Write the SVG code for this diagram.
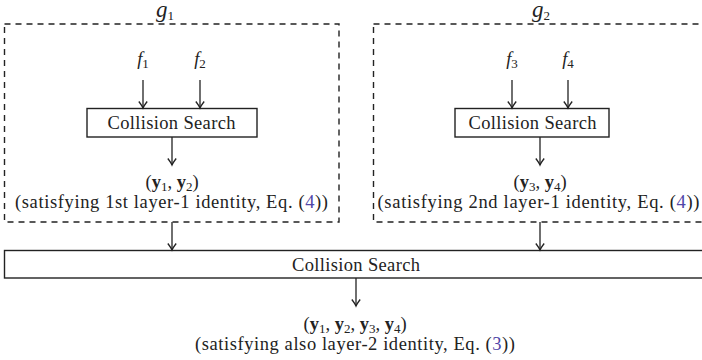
<svg xmlns="http://www.w3.org/2000/svg" width="702" height="360" viewBox="0 0 702 360">
  <style>
    text { font-family: 'Liberation Serif', 'Times New Roman', Times, serif; fill: #222; }
    .t { font-size: 18.5px; text-anchor: middle; }
    .m { font-size: 18.5px; text-anchor: middle; }
    .g { font-size: 23px; text-anchor: middle; }
    .i { font-style: italic; }
    .b { font-weight: bold; }
    .s { font-size: 13px; }
    .ref { fill: #5046a8; }
    .box { fill: #fff; stroke: #222; stroke-width: 1.4; }
    .dash { fill: none; stroke: #222; stroke-width: 1.4; stroke-dasharray: 6 5; }
    .edge { fill: none; stroke: #222; stroke-width: 1.3; marker-end: url(#to); }
  </style>
  <defs>
    <marker id="to" viewBox="-8 -6 10 12" markerWidth="10" markerHeight="12" refX="0" refY="0" orient="auto" markerUnits="userSpaceOnUse">
      <path d="M -6.5,-4.2 Q -2,-0.8 0,0 Q -2,0.8 -6.5,4.2" fill="none" stroke="#222" stroke-width="1.3"/>
    </marker>
  </defs>

  <rect width="702" height="360" fill="#fff"/>

  <!-- group g1 -->
  <g id="group-g1">
    <rect class="dash" x="4.5" y="24" width="334.5" height="198"/>
    <text class="g" x="165" y="17"><tspan class="i">g</tspan><tspan class="s" font-size="15" dy="3">1</tspan></text>
  </g>
  <g id="f1"><text class="m" x="143" y="65"><tspan class="i">f</tspan><tspan class="s" dy="3">1</tspan></text></g>
  <g id="f2"><text class="m" x="200" y="65"><tspan class="i">f</tspan><tspan class="s" dy="3">2</tspan></text></g>
  <g id="search-1">
    <rect class="box" x="87" y="108.5" width="170" height="28.5"/>
    <text class="t" x="171.5" y="128.5" textLength="128" lengthAdjust="spacing">Collision Search</text>
  </g>
  <g id="result-1">
    <text class="m" x="172" y="188"><tspan>(</tspan><tspan class="b">y</tspan><tspan class="s" dy="3">1</tspan><tspan dy="-3">, </tspan><tspan class="b">y</tspan><tspan class="s" dy="3">2</tspan><tspan dy="-3">)</tspan></text>
    <text class="t" x="171.5" y="208" textLength="313" lengthAdjust="spacing">(satisfying 1st layer-1 identity, Eq. (<tspan class="ref">4</tspan>))</text>
  </g>

  <!-- group g2 -->
  <g id="group-g2">
    <rect class="dash" x="373.5" y="24" width="340" height="198"/>
    <text class="g" x="541" y="17"><tspan class="i">g</tspan><tspan class="s" font-size="15" dy="3">2</tspan></text>
  </g>
  <g id="f3"><text class="m" x="512" y="65"><tspan class="i">f</tspan><tspan class="s" dy="3">3</tspan></text></g>
  <g id="f4"><text class="m" x="568" y="65"><tspan class="i">f</tspan><tspan class="s" dy="3">4</tspan></text></g>
  <g id="search-2">
    <rect class="box" x="455" y="108.5" width="154" height="28.5"/>
    <text class="t" x="532.5" y="128.5" textLength="128" lengthAdjust="spacing">Collision Search</text>
  </g>
  <g id="result-2">
    <text class="m" x="540" y="188"><tspan>(</tspan><tspan class="b">y</tspan><tspan class="s" dy="3">3</tspan><tspan dy="-3">, </tspan><tspan class="b">y</tspan><tspan class="s" dy="3">4</tspan><tspan dy="-3">)</tspan></text>
    <text class="t" x="538.5" y="208" textLength="322" lengthAdjust="spacing">(satisfying 2nd layer-1 identity, Eq. (<tspan class="ref">4</tspan>))</text>
  </g>

  <!-- layer-2 search -->
  <g id="search-3">
    <rect class="box" x="4.5" y="250.5" width="720" height="27.5"/>
    <text class="t" x="356" y="270.5" textLength="128" lengthAdjust="spacing">Collision Search</text>
  </g>
  <g id="result-3">
    <text class="m" x="355" y="330"><tspan>(</tspan><tspan class="b">y</tspan><tspan class="s" dy="3">1</tspan><tspan dy="-3">, </tspan><tspan class="b">y</tspan><tspan class="s" dy="3">2</tspan><tspan dy="-3">, </tspan><tspan class="b">y</tspan><tspan class="s" dy="3">3</tspan><tspan dy="-3">, </tspan><tspan class="b">y</tspan><tspan class="s" dy="3">4</tspan><tspan dy="-3">)</tspan></text>
    <text class="t" x="355" y="350" textLength="320" lengthAdjust="spacing">(satisfying also layer-2 identity, Eq. (<tspan class="ref">3</tspan>))</text>
  </g>

  <!-- connectors -->
  <g id="connectors">
    <line class="edge" x1="143" y1="80" x2="143" y2="108"/>
    <line class="edge" x1="200" y1="80" x2="200" y2="108"/>
    <line class="edge" x1="172" y1="137" x2="172" y2="165"/>
    <line class="edge" x1="512" y1="80" x2="512" y2="108"/>
    <line class="edge" x1="568" y1="80" x2="568" y2="108"/>
    <line class="edge" x1="540" y1="137" x2="540" y2="165"/>
    <line class="edge" x1="172" y1="222" x2="172" y2="250"/>
    <line class="edge" x1="540" y1="222" x2="540" y2="250"/>
    <line class="edge" x1="356" y1="278" x2="356" y2="306"/>
  </g>
</svg>
